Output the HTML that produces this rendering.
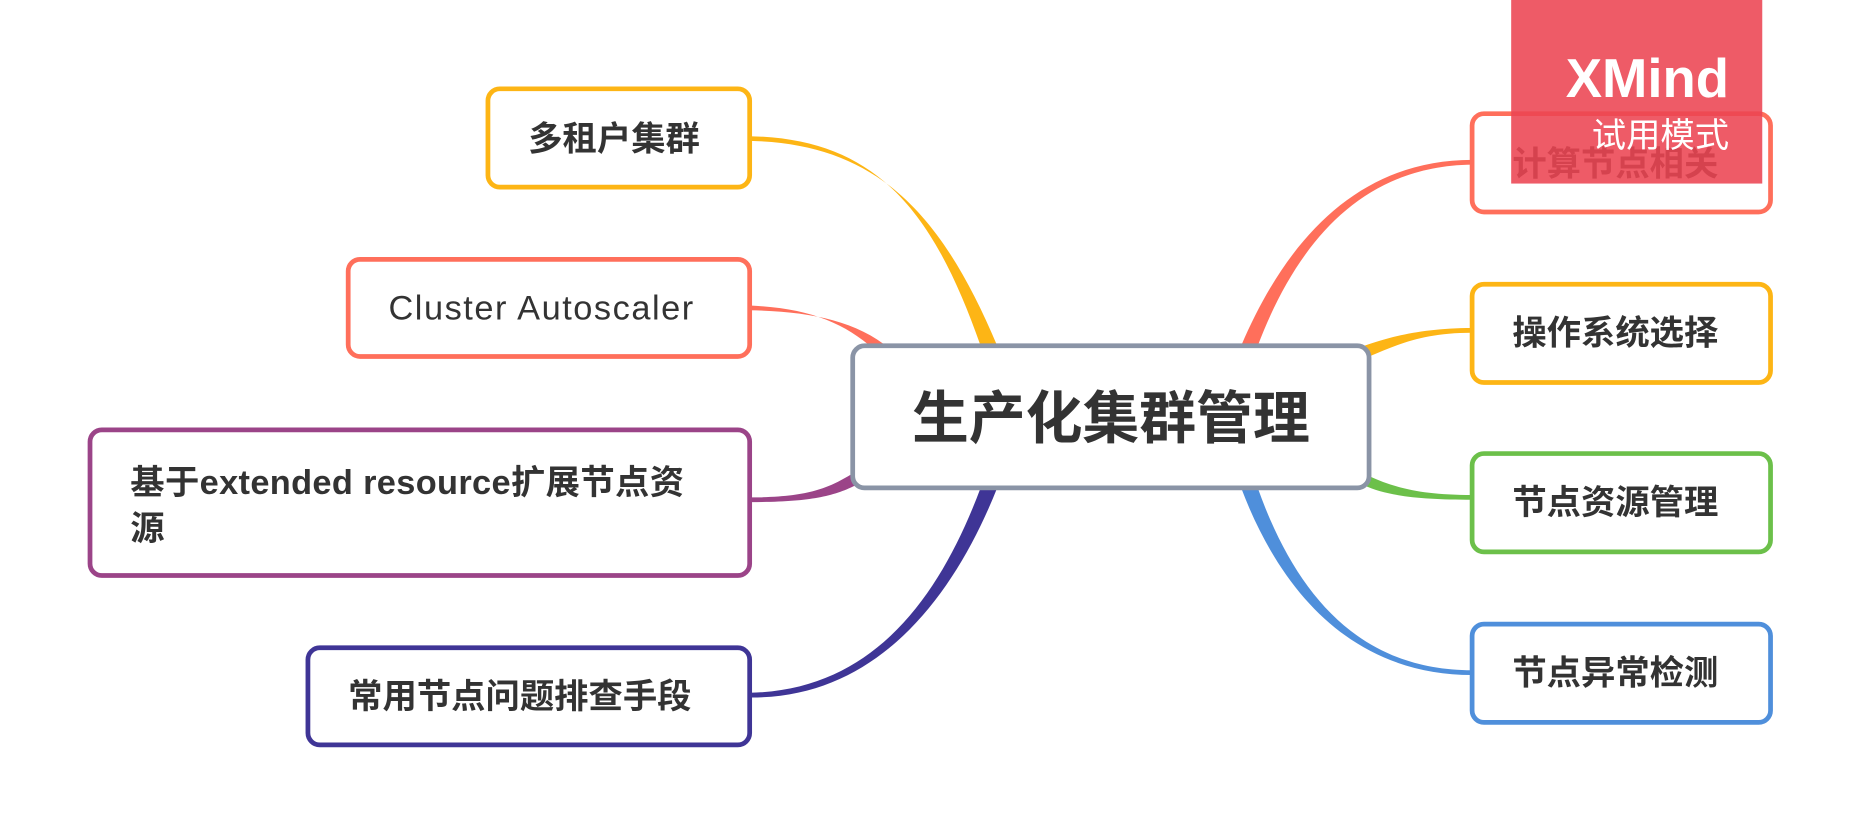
<!DOCTYPE html>
<html><head><meta charset="utf-8"><style>html,body{margin:0;padding:0;background:#fff;overflow:hidden}</style></head>
<body>
<svg width="1857" height="833" viewBox="0 0 1568 703.4" preserveAspectRatio="none" xmlns="http://www.w3.org/2000/svg" style="display:block">
<g stroke="none">
<path d="M633 115 C740 117 788 178 828 292 L842 292 C795 180 740 121 633 119 Z" fill="#FDB515"/>
<path d="M633 258 C682 260 712 272 738 295 L752 295 C722 270 682 263 633 262 Z" fill="#FF6F5B"/>
<path d="M633 420 C680 420 698 413 718 401 L722 410 C702 420 680 424 633 424 Z" fill="#9B4488"/>
<path d="M633 585 C740 583 795 500 828 412 L842 412 C805 505 740 590 633 589 Z" fill="#3F3596"/>
<path d="M1243 135 C1150 135 1088 198 1048 292 L1062 292 C1095 205 1150 140 1243 139 Z" fill="#FF6F5B"/>
<path d="M1243 277 C1200 277 1172 285 1152 292 L1156 301 C1178 292 1200 281 1243 281 Z" fill="#FDB515"/>
<path d="M1243 418 C1200 418 1178 412 1156 402 L1152 410 C1172 419 1200 422 1243 422 Z" fill="#6CC04A"/>
<path d="M1243 566 C1150 566 1095 505 1062 412 L1048 412 C1085 510 1150 570 1243 570 Z" fill="#4F8FDB"/>
</g>
<g fill="#fff" stroke-width="4">
<rect x="720" y="292" width="436" height="120" rx="10" stroke="#8A94A6"/>
<rect x="412" y="75" width="221" height="83" rx="10" stroke="#FDB515"/>
<rect x="294" y="219" width="339" height="82" rx="10" stroke="#FF6F5B"/>
<rect x="76" y="363" width="557" height="123" rx="10" stroke="#9B4488"/>
<rect x="260" y="547" width="373" height="82" rx="10" stroke="#3F3596"/>
<rect x="1243" y="96" width="252" height="83" rx="10" stroke="#FF6F5B"/>
<rect x="1243" y="240" width="252" height="83" rx="10" stroke="#FDB515"/>
<rect x="1243" y="383" width="252" height="83" rx="10" stroke="#6CC04A"/>
<rect x="1243" y="527" width="252" height="83" rx="10" stroke="#4F8FDB"/>
</g>
<g fill="#333" font-family="Liberation Sans, Noto Sans CJK SC, sans-serif" font-size="29" font-weight="bold">
<text x="938" y="370" text-anchor="middle" font-size="48">生产化集群管理</text>
<text x="446" y="127">多租户集群</text>
<text x="328" y="270" font-weight="normal" font-size="29" letter-spacing="1.3">Cluster Autoscaler</text>
<text x="110" y="417" letter-spacing="0.3">基于extended resource扩展节点资</text>
<text x="110" y="456">源</text>
<text x="294" y="598">常用节点问题排查手段</text>
<text x="1277" y="148">计算节点相关</text>
<text x="1277" y="291">操作系统选择</text>
<text x="1277" y="434">节点资源管理</text>
<text x="1277" y="578">节点异常检测</text>
</g>
<rect x="1276" y="0" width="212" height="155" fill="#EC4452" fill-opacity="0.88"/>
<g fill="#fff" font-family="Liberation Sans, Noto Sans CJK SC, sans-serif" text-anchor="end">
<text x="1460" y="82" font-size="46" font-weight="bold">XMind</text>
<text x="1460" y="124" font-size="29">试用模式</text>
</g>
</svg>
</body></html>
